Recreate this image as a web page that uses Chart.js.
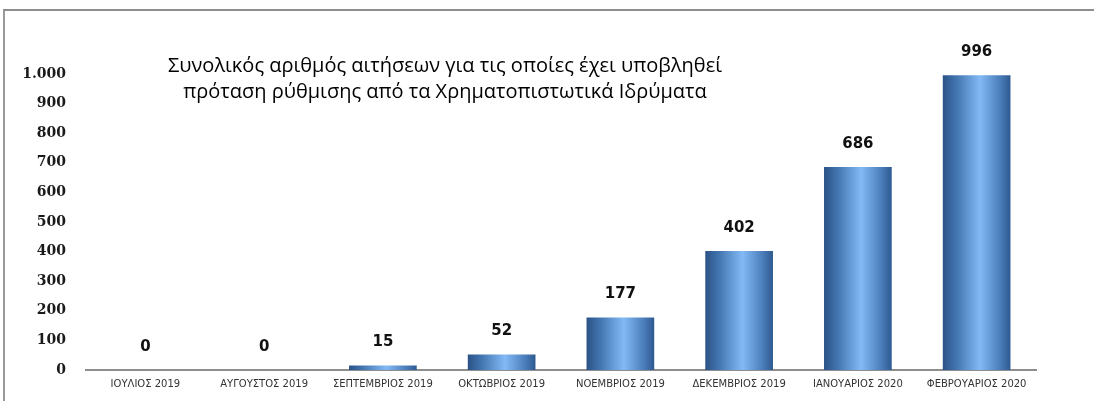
<!DOCTYPE html>
<html>
<head>
<meta charset="utf-8">
<script src="https://cdn.jsdelivr.net/npm/chart.js@4.4.1/dist/chart.umd.min.js"></script>
<style>
  html, body { margin: 0; padding: 0; background: #fff; }
  #wrap { position: relative; width: 1094px; height: 401px; overflow: hidden; }
  #frame {
    position: absolute; left: 3px; top: 9px; width: 1100px; height: 400px;
    border-top: 2px solid #8e8e8e; border-left: 2px solid #9a9a9a;
  }
  canvas { position: absolute; left: 0; top: 0; }
</style>
</head>
<body>
<div id="wrap">
  <div id="frame"></div>
  <canvas id="chart" width="1094" height="401"></canvas>
</div>
<script>
// --- data ---
const months = [
  'ΙΟΥΛΙΟΣ 2019', 'ΑΥΓΟΥΣΤΟΣ 2019', 'ΣΕΠΤΕΜΒΡΙΟΣ 2019', 'ΟΚΤΩΒΡΙΟΣ 2019',
  'ΝΟΕΜΒΡΙΟΣ 2019', 'ΔΕΚΕΜΒΡΙΟΣ 2019', 'ΙΑΝΟΥΑΡΙΟΣ 2020', 'ΦΕΒΡΟΥΑΡΙΟΣ 2020'
];
const requests = [0, 0, 15, 52, 177, 402, 686, 996];
const yTicks = [0, 100, 200, 300, 400, 500, 600, 700, 800, 900, 1000];
const titleLines = [
  'Συνολικός αριθμός αιτήσεων για τις οποίες έχει υποβληθεί',
  'πρόταση ρύθμισης από τα Χρηματοπιστωτικά Ιδρύματα'
];

// thousands separator like the original (1.000)
const fmt = v => String(v).replace(/\B(?=(\d{3})+(?!\d))/g, '.');

// horizontal "cylinder" shading for every bar
const barShade = {
  id: 'barShade',
  beforeDatasetsDraw: (chart) => {
    const ctx = chart.ctx;
    chart.getDatasetMeta(0).data.forEach(bar => {
      const half = bar.width / 2;
      const g = ctx.createLinearGradient(bar.x - half, 0, bar.x + half, 0);
      g.addColorStop(0, '#2b5286');
      g.addColorStop(0.2, '#4275b0');
      g.addColorStop(0.55, '#82baf5');
      g.addColorStop(0.85, '#4a7dba');
      g.addColorStop(1, '#2e5990');
      bar.options.backgroundColor = g;
    });
  }
};

// value labels above bars + the boxed title text
const overlay = {
  id: 'overlay',
  afterDatasetsDraw: (chart) => {
    const ctx = chart.ctx;
    ctx.save();
    ctx.fillStyle = '#111';
    ctx.textAlign = 'center';
    ctx.textBaseline = 'middle';
    ctx.font = 'bold 15px "DejaVu Sans"';
    chart.getDatasetMeta(0).data.forEach((bar, i) => {
      ctx.fillText(fmt(requests[i]), bar.x, bar.y - 23);
    });

    ctx.font = '20px "Open Sans"';
    ctx.fillStyle = '#000';
    titleLines.forEach((line, i) => ctx.fillText(line, 445, 66 + i * 26));
    ctx.restore();
  }
};

new Chart(document.getElementById('chart'), {
  type: 'bar',
  data: {
    labels: months,
    datasets: [{
      data: requests,
      // scriptable so each bar keeps its own options object (own gradient)
      backgroundColor: () => '#4a7dba',
      borderWidth: 0,
      categoryPercentage: 1,
      barPercentage: 0.57
    }]
  },
  options: {
    responsive: false,
    animation: false,
    layout: { padding: { left: 0, right: 58, top: 74, bottom: 3 } },
    plugins: { legend: { display: false }, tooltip: { enabled: false }, title: { display: false } },
    scales: {
      x: {
        grid: { display: false, drawTicks: false },
        border: { display: true, color: '#8e8e8e', width: 2 },
        ticks: {
          color: '#333',
          padding: 8,
          maxRotation: 0,
          autoSkip: false,
          font: { family: '"DejaVu Sans"', size: 10 }
        }
      },
      y: {
        min: 0,
        max: 1000,
        afterFit: (scale) => { scale.width = 86; },
        afterBuildTicks: (scale) => { scale.ticks = yTicks.map(v => ({ value: v })); },
        grid: { display: false, drawTicks: false },
        border: { display: false },
        ticks: {
          color: '#1a1a1a',
          padding: 20,
          font: { family: '"DejaVu Serif"', size: 14, weight: 'bold' },
          callback: v => fmt(v)
        }
      }
    }
  },
  plugins: [barShade, overlay]
});
</script>
</body>
</html>
